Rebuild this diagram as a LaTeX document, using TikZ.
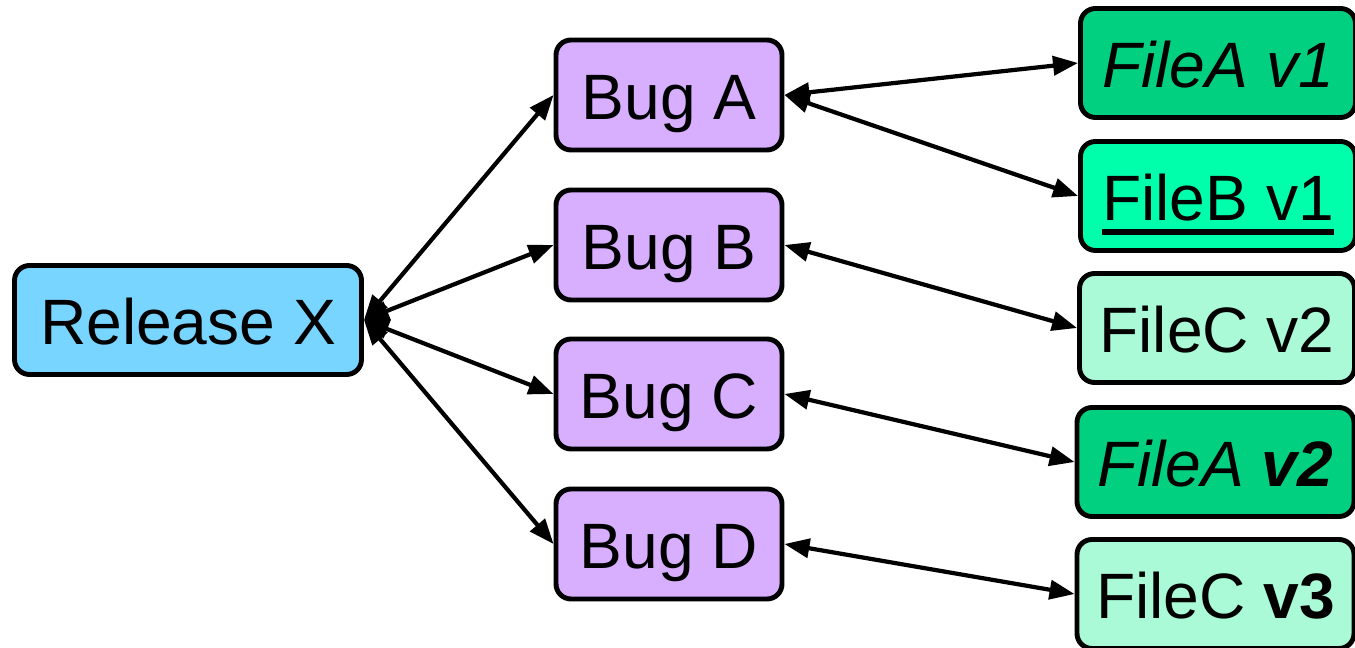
\documentclass[tikz,border=0pt]{standalone}
\usepackage{fontspec}
\setmainfont{Liberation Sans}
\usetikzlibrary{arrows.meta}
\definecolor{relblue}{HTML}{77D5FF}
\definecolor{buglilac}{HTML}{D8AEFF}
\definecolor{filedark}{HTML}{00D080}
\definecolor{filebright}{HTML}{00FFAA}
\definecolor{filepale}{HTML}{AAF9D7}
\newcommand{\thickul}[1]{{\setbox0\hbox{#1}\rlap{\raisebox{-0.28cm}{\rule{\wd0}{3.2pt}}}\box0}}
\begin{document}
\begin{tikzpicture}
    [box/.style={draw, line width=2.8pt, rounded corners=0.3cm,
      font=\fontsize{36.5}{40}\selectfont, inner sep=0pt,
      text height=1.05cm, text depth=0.05cm,
      minimum height=2.18cm},
    rel/.style={box, fill=relblue, minimum width=6.94cm},
    bug/.style={box, fill=buglilac, minimum width=4.52cm, minimum height=2.2cm},
    fl/.style={box, minimum width=5.5cm},
    link/.style={line width=2.4pt,
      {Triangle[length=0.5cm,width=0.38cm]}-{Triangle[length=0.5cm,width=0.38cm]}}]
    \useasboundingbox (0,0) rectangle (27.1,12.96);
    \node[rel] (rel) at (3.76,6.56) {Release X};
    \foreach \b/\y in {A/11.06,B/8.06,C/5.08,D/2.08}
      \node[bug] (bug\b) at (13.38,\y) {Bug \b};
    \node[fl, fill=filedark] (fa1) at (24.36,11.7) {\textit{FileA v1}};
    \node[fl, fill=filebright] (fb1) at (24.36,9.04) {\thickul{FileB v1}};
    \node[fl, fill=filepale] (fc2) at (24.34,6.4) {FileC v2};
    \node[fl, fill=filedark, minimum width=5.54cm] (fa2) at (24.31,3.72)
      {\textit{FileA} \textbf{\textit{v2}}};
    \node[fl, fill=filepale, minimum width=5.54cm] (fc3) at (24.31,1.08)
      {FileC \textbf{v3}};
    % release to bugs
    \foreach \b in {A,B,C,D}
      \draw[link] (rel.east) -- (bug\b.west);
    % bugs to files
    \draw[link] (bugA.east) -- (fa1.west);
    \draw[link] (bugA.east) -- (fb1.west);
    \draw[link] (bugB.east) -- (fc2.west);
    \draw[link] (bugC.east) -- (fa2.west);
    \draw[link] (bugD.east) -- (fc3.west);
\end{tikzpicture}
\end{document}
